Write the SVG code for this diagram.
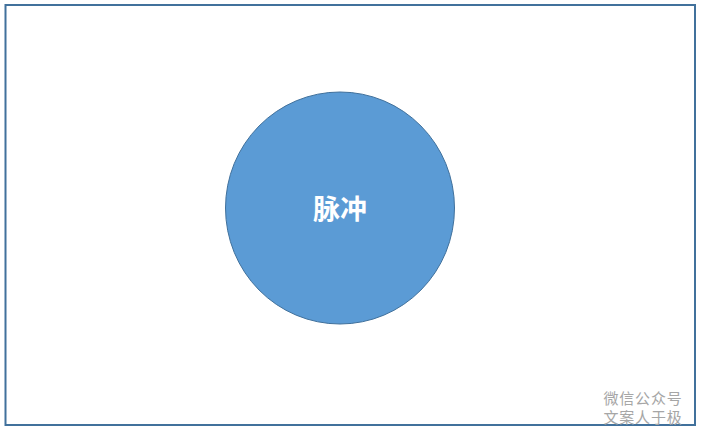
<svg xmlns="http://www.w3.org/2000/svg" width="701" height="430" viewBox="0 0 701 430">
<style>
.lbl{font-family:"Noto Sans CJK SC","Noto Sans",sans-serif;font-weight:bold;font-size:27px;fill:#ffffff;text-anchor:middle}
.wm{font-family:"Noto Sans CJK SC","Noto Sans",sans-serif;font-size:15px;letter-spacing:0.8px;fill:#a6a6a6}
</style>
<rect x="0" y="0" width="701" height="430" fill="#ffffff"/>
<rect x="5.5" y="5" width="689.5" height="420" fill="none" stroke="#41719C" stroke-width="2"/>
<g id="connectors"></g>
<g id="node-pulse">
<ellipse cx="340" cy="208" rx="114.5" ry="116" fill="#5B9BD5" stroke="#41719C" stroke-width="1"/>
<text class="lbl" x="340" y="218.5">脉冲</text>
</g>
<g id="watermark">
<text class="wm" x="603.5" y="403.5">微信公众号</text>
<text class="wm" x="603.5" y="423">文案人于极</text>
</g>
</svg>
